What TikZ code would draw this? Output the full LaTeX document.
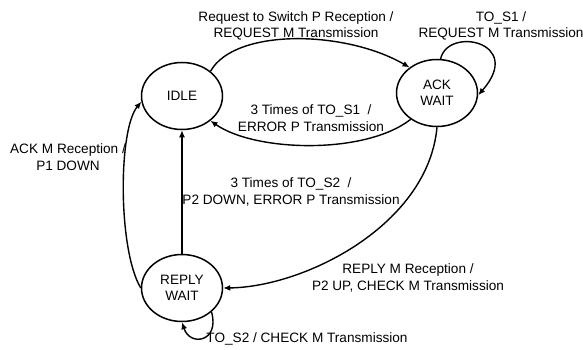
\documentclass[tikz,border=0pt]{standalone}
\usepackage{fontspec}
\setmainfont{Liberation Sans}
\usetikzlibrary{shapes.geometric,arrows.meta}
\tikzset{
  state/.style={draw, ellipse, line width=1.5pt, minimum width=81pt, minimum height=67pt, inner sep=0pt, align=center, font=\fontsize{13.6}{16.5}\selectfont},
  lbl/.style={align=center, inner sep=0pt, font=\fontsize{13.6}{16.5}\selectfont},
  conn/.style={line width=1.4pt, -{Latex[length=7pt,width=6pt]}}
}
\begin{document}
\begin{tikzpicture}[x=1pt,y=-1pt]
\useasboundingbox (0,0) rectangle (583,350);
\node[state] (idle) at (182,96) {IDLE};
\node[state] (ack) at (437,93) {ACK\\WAIT};
\node[state] (reply) at (182,288) {REPLY\\WAIT};

\draw[conn] (idle.41) .. controls (235,28) and (345,30) .. (ack.137);
\draw[conn] (ack.225) .. controls (365,155) and (255,152) .. (idle.319);
\draw[conn] (ack.84) .. controls (448,26) and (525,42) .. (ack.-3);
\draw[conn] (ack.-90) .. controls (428,225) and (305,287) .. (reply.east);
\draw[conn] (reply.north) -- (idle.south);
\draw[conn] (reply.west) .. controls (118,250) and (118,130) .. (idle.188);
\draw[conn] (reply.-39) .. controls (220,342) and (190,347) .. (reply.-90);

\node[lbl] (l1) at (296,26) {Request to Switch P Reception /\\REQUEST M Transmission};
\node[lbl] (l2) at (501,26) {TO\_S1 /\\REQUEST M Transmission};
\node[lbl] (l3) at (311,118) {3 Times of TO\_S1~ /\\ERROR P Transmission};
\node[lbl] (l4) at (68,157) {ACK M Reception /\\P1 DOWN};
\node[lbl] (l5) at (291,192) {3 Times of TO\_S2~ /\\P2 DOWN, ERROR P Transmission};
\node[lbl] (l6) at (408,278) {REPLY M Reception /\\P2 UP, CHECK M Transmission};
\node[lbl] (l7) at (307,339) {TO\_S2 / CHECK M Transmission};
\end{tikzpicture}
\end{document}
